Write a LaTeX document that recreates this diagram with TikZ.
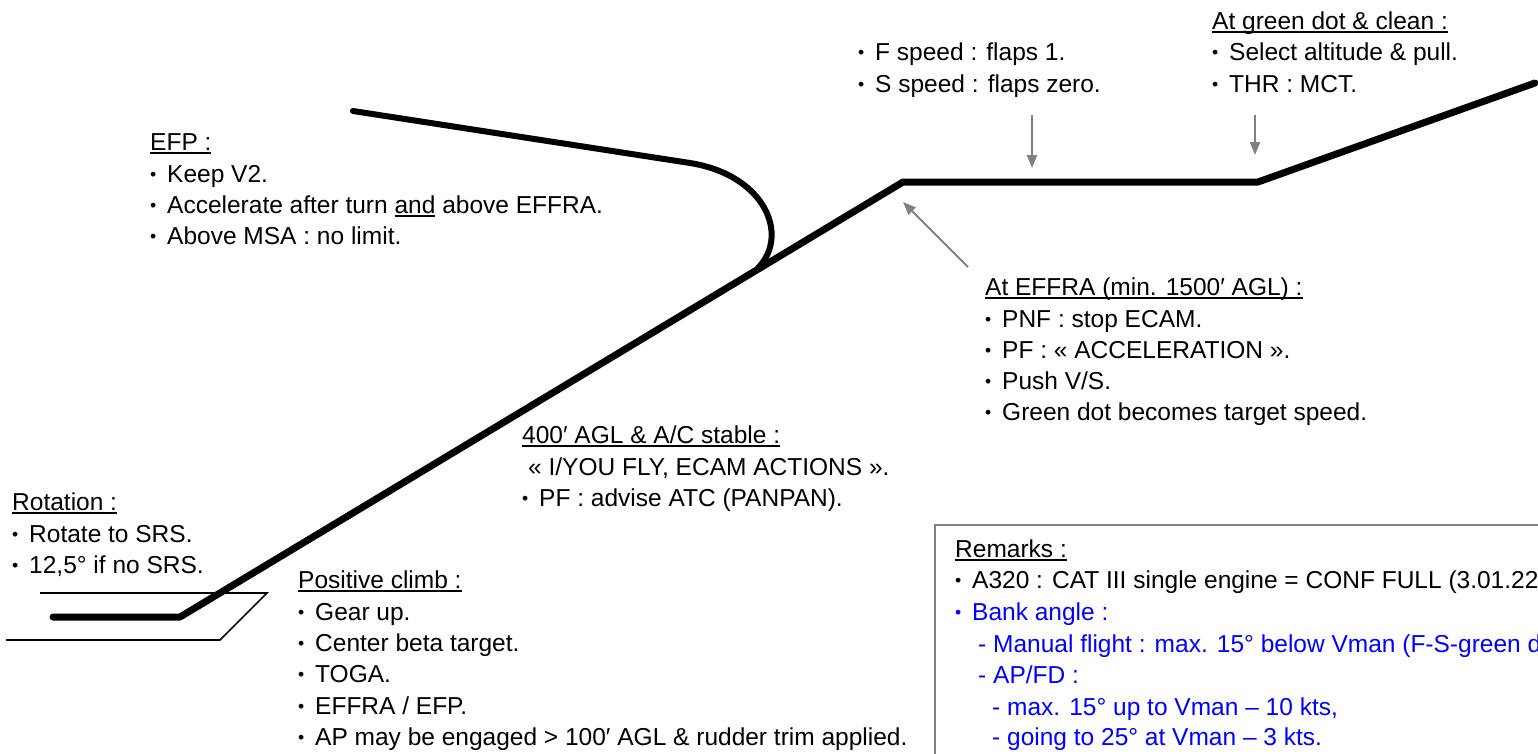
\documentclass[tikz,border=0pt]{standalone}
\usepackage{fontspec}
\setmainfont{Liberation Sans}
\usepackage{graphicx}
\newsavebox\ulbox
\newcommand\uln[1]{\sbox\ulbox{#1}\rlap{\rule[-3.6pt]{\wd\ulbox}{1.6pt}}\usebox\ulbox}
\usetikzlibrary{arrows.meta}
\definecolor{arrgray}{RGB}{128,128,128}
\definecolor{boxgray}{RGB}{130,130,130}
\definecolor{txtblue}{RGB}{0,0,255}
\newcommand\bl{\makebox[17pt][l]{\raisebox{1.4pt}{\scalebox{0.72}{•}}}}
\begin{document}
\begin{tikzpicture}[x=1pt,y=-1pt,
  txt/.style={anchor=base west, inner sep=0pt, font=\fontsize{24.5}{30}\selectfont},
  btxt/.style={txt, text=txtblue},
  flight/.style={line width=7pt, line cap=round, line join=round},
  turnline/.style={line width=6pt, line cap=round, line join=round},
  rwy/.style={line width=1.6pt},
  garrow/.style={draw=arrgray, line width=2pt, -{Triangle[length=13pt,width=10pt,fill=arrgray]}},
  remarkbox/.style={draw=boxgray, line width=2pt}]
\clip (0,0) rectangle (1538,753);
\fill[white] (0,0) rectangle (1538,753);

% runway
\draw[rwy] (40,593) -- (267,593) -- (220,640) -- (6,640);

% flight path
\draw[flight] (53,617) -- (180,617) -- (903,182) -- (1258,182) -- (1535,83);
% engine-out turn
\draw[turnline] (353,111) -- (690,163) .. controls (765,175) and (790,235) .. (758,268);

% remarks box
\draw[remarkbox] (935,525) rectangle (1600,800);

% text blocks
\node[txt] (efp0) at (150,150) {\uln{EFP :}};
\node[txt] (efp1) at (150,182) {\bl Keep V2.};
\node[txt] (efp2) at (150,213) {\bl Accelerate after turn \uln{and} above EFFRA.};
\node[txt] (efp3) at (150,244) {\bl Above MSA : no limit.};

\node[txt] (rot0) at (12,510) {\uln{Rotation :}};
\node[txt] (rot1) at (12,542) {\bl Rotate to SRS.};
\node[txt] (rot2) at (12,573) {\bl 12,5° if no SRS.};

\node[txt] (pos0) at (298,588) {\uln{Positive climb :}};
\node[txt] (pos1) at (298,620) {\bl Gear up.};
\node[txt] (pos2) at (298,651) {\bl Center beta target.};
\node[txt] (pos3) at (298,682) {\bl TOGA.};
\node[txt] (pos4) at (298,714) {\bl EFFRA / EFP.};
\node[txt] (pos5) at (298,745) {\bl AP may be engaged > 100′ AGL \& rudder trim applied.};

\node[txt] (agl0) at (522,443) {\uln{400′ AGL \& A/C stable :}};
\node[txt] (agl1) at (522,475) {\hspace*{6pt}« I/YOU FLY, ECAM ACTIONS ».};
\node[txt] (agl2) at (522,506) {\bl PF : advise ATC (PANPAN).};

\node[txt] (fs1) at (858,60) {\bl F speed : flaps 1.};
\node[txt] (fs2) at (858,92) {\bl S speed : flaps zero.};

\node[txt] (gd0) at (1212,29) {\uln{At green dot \& clean :}};
\node[txt] (gd1) at (1212,60) {\bl Select altitude \& pull.};
\node[txt] (gd2) at (1212,92) {\bl THR : MCT.};

\node[txt] (ef0) at (985,295) {\uln{At EFFRA (min. 1500′ AGL) :}};
\node[txt] (ef1) at (985,327) {\bl PNF : stop ECAM.};
\node[txt] (ef2) at (985,358) {\bl PF : « ACCELERATION ».};
\node[txt] (ef3) at (985,389) {\bl Push V/S.};
\node[txt] (ef4) at (985,420) {\bl Green dot becomes target speed.};

\node[txt] (rm0) at (955,557) {\uln{Remarks :}};
\node[txt] (rm1) at (955,588) {\bl A320 : CAT III single engine = CONF FULL (3.01.22};
\node[btxt] (rm2) at (955,620) {\bl Bank angle :};
\node[btxt] (rm3) at (978,652) {- Manual flight : max. 15° below Vman (F-S-green do};
\node[btxt] (rm4) at (978,683) {- AP/FD :};
\node[btxt] (rm5) at (992,715) {- max. 15° up to Vman – 10 kts,};
\node[btxt] (rm6) at (992,745) {- going to 25° at Vman – 3 kts.};

% arrows
\coordinate (a1s) at (1032,115);
\coordinate (a1e) at (1032,168);
\coordinate (a2s) at (1255,115);
\coordinate (a2e) at (1255,155);
\coordinate (a3s) at (968,267);
\coordinate (a3e) at (903,202);
\draw[garrow] (a1s) -- (a1e);
\draw[garrow] (a2s) -- (a2e);
\draw[garrow] (a3s) -- (a3e);
\end{tikzpicture}
\end{document}
